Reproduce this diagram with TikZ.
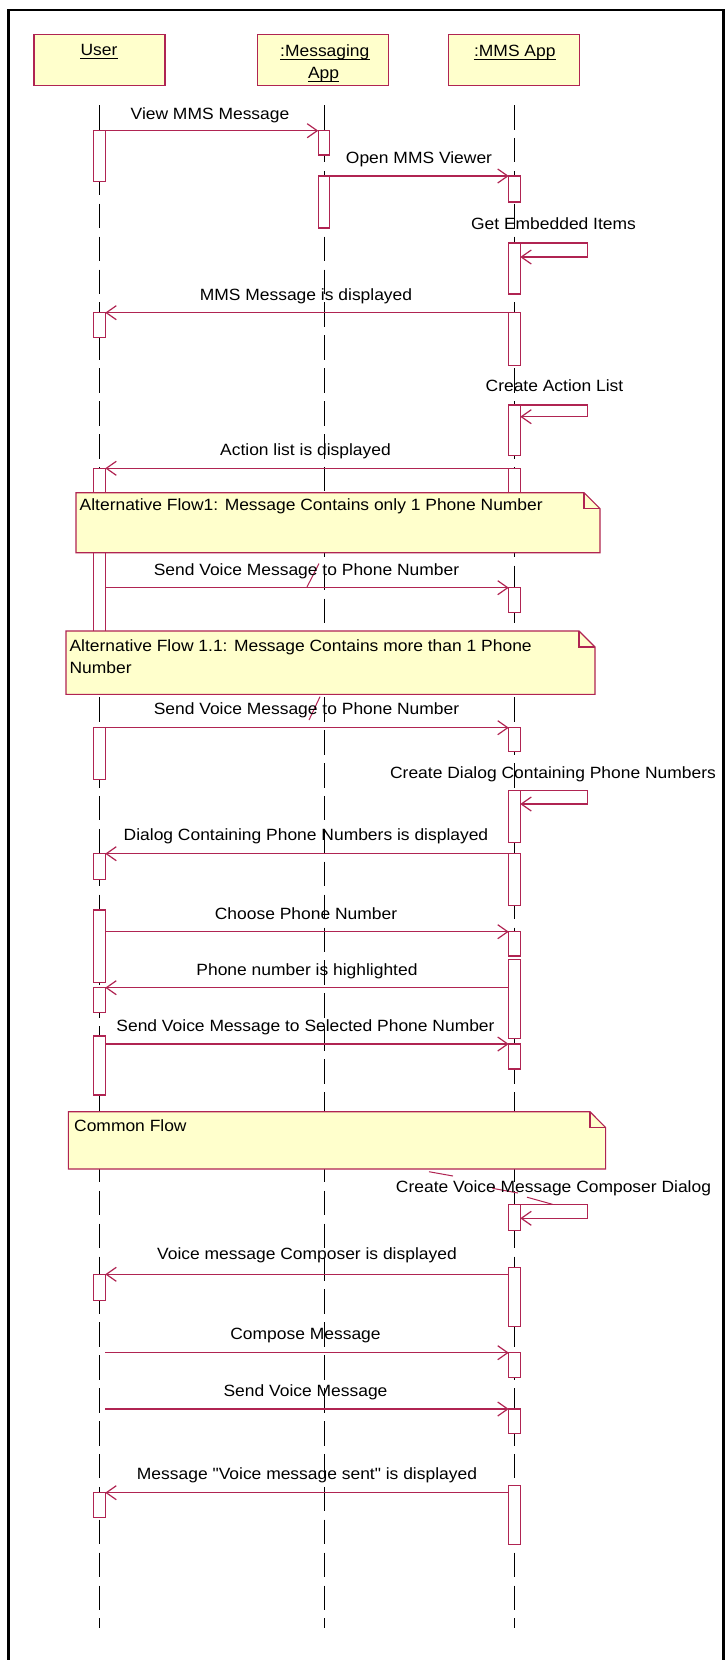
\documentclass[tikz,border=0pt]{standalone}
\usepackage{fontspec}
\setmainfont{Liberation Sans}[FakeStretch=1.07,Ligatures=TeXOff]
\usetikzlibrary{arrows.meta}
\definecolor{umlred}{RGB}{176,36,82}
\definecolor{notefill}{RGB}{255,255,204}
\newcommand\actv[4]{\node[actbox, minimum height={(#4-(#3))*1pt}, anchor=north] (#1) at (#2,#3) {};}
\begin{document}
\begin{tikzpicture}[x=1pt,y=-1pt,
 lbl/.style={anchor=base,inner sep=0pt,font=\fontsize{16.3}{19}\selectfont},
 ntext/.style={anchor=base west,inner sep=0pt,font=\fontsize{16.3}{19}\selectfont},
 head/.style={draw=umlred,fill=notefill,line width=1.1pt,minimum width=131pt,minimum height=51pt,inner sep=0pt,outer sep=0pt},
 actbox/.style={draw=umlred,fill=white,line width=1.1pt,minimum width=11.5pt,inner sep=0pt,outer sep=0pt},
 lifeline/.style={draw=black,line width=0.9pt,dash pattern=on 24.5pt off 8.4pt},
 msg/.style={draw=umlred,line width=1.2pt,-{Straight Barb[length=10pt,width=14pt]}},
 notebox/.style={draw=umlred,fill=notefill,line width=1.1pt,line join=miter},
 foldline/.style={draw=umlred,line width=1.1pt},
 slash/.style={draw=umlred,line width=1pt},
 uline/.style={draw=black,line width=0.9pt}]

\useasboundingbox (0,0) rectangle (725,1660);
\fill[white] (0,0) rectangle (725,1660);
\draw[line width=2.4pt] (8.5,1662) -- (8.5,10) -- (723.5,10) -- (723.5,1662);

% headers
\node[head] (user) at (99.5,60.2) {};
\node[head] (msgapp) at (323,60.2) {};
\node[head] (mmsapp) at (514.3,60.2) {};
\node[lbl] (userT) at (99,55) {User};
\node[lbl] (msgT1) at (324.8,56) {:Messaging\ };
\node[lbl] (msgT2) at (323.6,78) {App};
\node[lbl] (mmsT) at (514.8,56) {:MMS App};
\draw[uline] ([yshift=-3pt]userT.base west) -- ([yshift=-3pt]userT.base east);
\draw[uline] ([yshift=-3pt]msgT1.base west) -- ([yshift=-3pt]msgT1.base east);
\draw[uline] ([yshift=-3pt]msgT2.base west) -- ([yshift=-3pt]msgT2.base east);
\draw[uline] ([yshift=-3pt]mmsT.base west) -- ([yshift=-3pt]mmsT.base east);

% lifelines
\coordinate (uTop) at (99.5,105);  \coordinate (uEnd) at (99.5,1628);
\coordinate (gTop) at (324,105);   \coordinate (gEnd) at (324,1628);
\coordinate (mTop) at (514.5,105); \coordinate (mEnd) at (514.5,1628);
\draw[lifeline] (uTop) -- (uEnd);
\draw[lifeline] (gTop) -- (gEnd);
\draw[lifeline] (mTop) -- (mEnd);

% activations: User
\actv{U1}{99.5}{130.7}{181.7}
\actv{U2}{99.5}{312.7}{337.7}
\actv{U3}{99.5}{468.3}{650}
\actv{U4}{99.5}{727.7}{779.3}
\actv{U5}{99.5}{853.7}{879.3}
\actv{U6}{99.5}{910}{982.3}
\actv{U7}{99.5}{987.7}{1012.3}
\actv{U8}{99.5}{1036}{1095}
\actv{U9}{99.5}{1274.3}{1300.7}
\actv{U10}{99.5}{1492.7}{1517.3}
% Messaging App
\actv{G1}{324}{130.7}{155}
\actv{G2}{324}{176}{228}
% MMS App
\actv{M1}{514.5}{176}{202}
\actv{M2}{514.5}{243}{294}
\actv{M3}{514.5}{312.7}{365.7}
\actv{M4}{514.5}{405}{455.7}
\actv{M5}{514.5}{468.3}{520}
\actv{M6}{514.5}{587.7}{612.3}
\actv{M7}{514.5}{727.7}{751.7}
\actv{M8}{514.5}{790.7}{842.3}
\actv{M9}{514.5}{853.7}{905.7}
\actv{M10}{514.5}{931.7}{956}
\actv{M11}{514.5}{959.3}{1038.3}
\actv{M12}{514.5}{1044}{1069}
\actv{M13}{514.5}{1204.3}{1230.7}
\actv{M14}{514.5}{1267.7}{1326.7}
\actv{M15}{514.5}{1352.7}{1377.7}
\actv{M16}{514.5}{1409}{1433.7}
\actv{M17}{514.5}{1485.7}{1544.3}

% messages
\draw[msg] (U1.north east) -- (G1.north west);
\draw[msg] (G2.north east) -- (M1.north west);
\draw[msg] (M2.north east) -- ++(67.5,0) |- ([yshift=-14pt]M2.north east);
\draw[msg] (M3.north west) -- (U2.north east);
\draw[msg] (M4.north east) -- ++(67.5,0) |- ([yshift=-11.7pt]M4.north east);
\draw[msg] (M5.north west) -- (U3.north east);
\draw[msg] (U3.east |- M6.north) -- (M6.north west);
\draw[msg] (U4.north east) -- (M7.north west);
\draw[msg] (M8.north east) -- ++(67.5,0) |- ([yshift=-13.3pt]M8.north east);
\draw[msg] (M9.north west) -- (U5.north east);
\draw[msg] (U6.east |- M10.north) -- (M10.north west);
\draw[msg] (M11.west |- U7.north) -- (U7.north east);
\draw[msg] (U8.east |- M12.north) -- (M12.north west);
\draw[msg] (M13.north east) -- ++(67.5,0) |- ([yshift=-14pt]M13.north east);
\draw[msg] (M14.west |- U9.north) -- (U9.north east);
\coordinate (cS1) at (105.25,1352.7);
\coordinate (cS2) at (105.25,1409);
\draw[msg] (cS1) -- (M15.north west);
\draw[msg] (cS2) -- (M16.north west);
\draw[msg] (M17.west |- U10.north) -- (U10.north east);

% stray red strokes
\draw[slash] (307,587) -- (319,563.5);
\draw[slash] (309,720) -- (320,696.7);
\draw[slash] (429,1171.7) -- (453,1176);
\draw[slash] (492.4,1188.3) -- (518,1193);
\draw[slash] (527,1197.2) -- (552.5,1204.3);

% notes
\draw[notebox] (76,492.7) -- (584,492.7) -- (600,508.7) -- (600,552.7) -- (76,552.7) -- cycle;
\draw[foldline] (584,492.7) -- (584,508.7) -- (600,508.7);
\node[ntext] (n1) at (79.5,510) {Alternative Flow1: Message Contains only 1 Phone Number};

\draw[notebox] (66,631) -- (579,631) -- (595,647) -- (595,694.3) -- (66,694.3) -- cycle;
\draw[foldline] (579,631) -- (579,647) -- (595,647);
\node[ntext] (n2a) at (69.4,651) {Alternative Flow 1.1: Message Contains more than 1 Phone};
\node[ntext] (n2b) at (69.4,673) {Number};

\draw[notebox] (68.4,1111.7) -- (590,1111.7) -- (605.6,1127.5) -- (605.6,1169) -- (68.4,1169) -- cycle;
\draw[foldline] (590,1111.7) -- (590,1127.5) -- (605.6,1127.5);
\node[ntext] (n3) at (74,1131.5) {Common Flow};

% labels
\node[lbl] at (210,119) {View MMS Message};
\node[lbl] at (419,163) {Open MMS Viewer};
\node[lbl] at (553.5,229) {Get Embedded Items};
\node[lbl] at (306,300) {MMS Message is displayed};
\node[lbl] at (554.5,391) {Create Action List};
\node[lbl] at (305.5,455) {Action list is displayed};
\node[lbl] at (306.5,575) {Send Voice Message to Phone Number};
\node[lbl] at (306.5,714) {Send Voice Message to Phone Number};
\node[lbl] at (553,778) {Create Dialog Containing Phone Numbers};
\node[lbl] at (306,840) {Dialog Containing Phone Numbers is displayed};
\node[lbl] at (306,919) {Choose Phone Number};
\node[lbl] at (307,975) {Phone number is highlighted};
\node[lbl] at (305.5,1031) {Send Voice Message to Selected Phone Number};
\node[lbl] at (553.5,1192) {Create Voice Message Composer Dialog};
\node[lbl] at (307,1259) {Voice message Composer is displayed};
\node[lbl] at (305.5,1339) {Compose Message};
\node[lbl] at (305.5,1396) {Send Voice Message};
\node[lbl] at (307,1479) {Message "Voice message sent" is displayed};
\end{tikzpicture}
\end{document}
